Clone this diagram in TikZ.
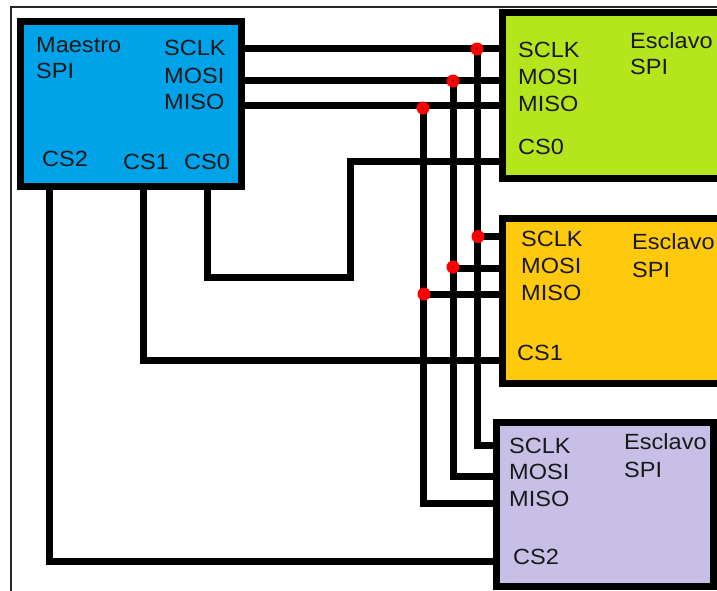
\documentclass[tikz,border=0pt]{standalone}
\usepackage{fontspec}
\setmainfont{Liberation Sans}[FakeStretch=1.07]
\definecolor{mblue}{RGB}{0,162,232}
\definecolor{sgreen}{RGB}{181,230,29}
\definecolor{sorange}{RGB}{255,201,14}
\definecolor{spurple}{RGB}{200,191,231}
\begin{document}
\begin{tikzpicture}[x=1pt,y=-1pt,
  box/.style={draw=black,line width=7pt,inner sep=0pt,rectangle},
  wire/.style={draw=black,line width=7pt,line cap=butt,line join=miter},
  lbl/.style={anchor=west,inner sep=0pt,text height=16pt,text depth=0pt,
    font=\fontsize{22}{26}\selectfont,text=black!90},
  jdot/.style={circle,fill=red,draw=none,minimum size=13pt,inner sep=0pt,
    path picture={\fill[black!80] (path picture bounding box.center) circle (0.8pt);}}]
\clip (0,0) rectangle (717,590);
\fill[white] (0,0) rectangle (717,590);
\draw[line width=1.1pt,black!85] (11,7) rectangle (800,700);

% boxes
\node[box,fill=mblue,minimum width=221pt,minimum height=165pt] (master) at (131,104) {};
\node[box,fill=sgreen,minimum width=277.5pt,minimum height=166pt] (green) at (641.25,95.5) {};
\node[box,fill=sorange,minimum width=277.5pt,minimum height=165pt] (orange) at (641.25,301) {};
\node[box,fill=spurple,minimum width=217.5pt,minimum height=164pt] (purple) at (604.75,504.5) {};

% bus junction coordinates
\coordinate (jA) at (477,48);
\coordinate (jB) at (453,80);
\coordinate (jC) at (423,105.5);
\coordinate (oA) at (477,236.5);
\coordinate (oB) at (453,268);
\coordinate (oC) at (423,294);
\coordinate (pA) at (477,445);
\coordinate (pB) at (453,476);
\coordinate (pC) at (423,503);

% master to green bus
\draw[wire] (master.east |- jA) -- (green.west |- jA);
\draw[wire] (master.east |- jB) -- (green.west |- jB);
\draw[wire] (master.east |- jC) -- (green.west |- jC);
% vertical buses to purple
\draw[wire] (jA) -- (pA) -- (purple.west |- pA);
\draw[wire] (jB) -- (pB) -- (purple.west |- pB);
\draw[wire] (jC) -- (pC) -- (purple.west |- pC);
% taps to orange
\draw[wire] (oA) -- (orange.west |- oA);
\draw[wire] (oB) -- (orange.west |- oB);
\draw[wire] (oC) -- (orange.west |- oC);

% chip selects
\coordinate (c0a) at (207,277);
\coordinate (c0b) at (350,277);
\coordinate (c0c) at (350,161);
\draw[wire] (207,0 |- master.south) -- (c0a) -- (c0b) -- (c0c) -- (green.west |- c0c);
\coordinate (c1a) at (143,360);
\draw[wire] (143,0 |- master.south) -- (c1a) -- (orange.west |- c1a);
\coordinate (c2a) at (49.5,561);
\draw[wire] (49.5,0 |- master.south) -- (c2a) -- (purple.west |- c2a);

% junction dots
\node[jdot] (dA) at (477,49) {};
\node[jdot] (dB) at (453,81) {};
\node[jdot] (dC) at (423,108) {};
\node[jdot] (eA) at (478,236.5) {};
\node[jdot] (eB) at (453,267) {};
\node[jdot] (eC) at (424,294) {};

% master labels
\node[lbl] (mt1) at (36,44) {Maestro};
\node[lbl] (mt2) at (36,70.5) {SPI};
\node[lbl] (mp1) at (164,47) {SCLK};
\node[lbl] (mp2) at (164,75.5) {MOSI};
\node[lbl] (mp3) at (164,101.5) {MISO};
\node[lbl] (mc2) at (42,158) {CS2};
\node[lbl] (mc1) at (123,161) {CS1};
\node[lbl] (mc0) at (184,161) {CS0};
% green labels
\node[lbl] (g1) at (518,49) {SCLK};
\node[lbl] (g2) at (518,76) {MOSI};
\node[lbl] (g3) at (518,103) {MISO};
\node[lbl] (g4) at (518,146) {CS0};
\node[lbl] (g5) at (630,40) {Esclavo};
\node[lbl] (g6) at (630,66) {SPI};
% orange labels
\node[lbl] (o1) at (521,238) {SCLK};
\node[lbl] (o2) at (521,265) {MOSI};
\node[lbl] (o3) at (521,292) {MISO};
\node[lbl] (o4) at (517,352) {CS1};
\node[lbl] (o5) at (632,241) {Esclavo};
\node[lbl] (o6) at (632,269) {SPI};
% purple labels
\node[lbl] (p1) at (509,445) {SCLK};
\node[lbl] (p2) at (509,471) {MOSI};
\node[lbl] (p3) at (509,498) {MISO};
\node[lbl] (p4) at (513,556) {CS2};
\node[lbl] (p5) at (624,441) {Esclavo};
\node[lbl] (p6) at (624,469) {SPI};
\end{tikzpicture}
\end{document}
